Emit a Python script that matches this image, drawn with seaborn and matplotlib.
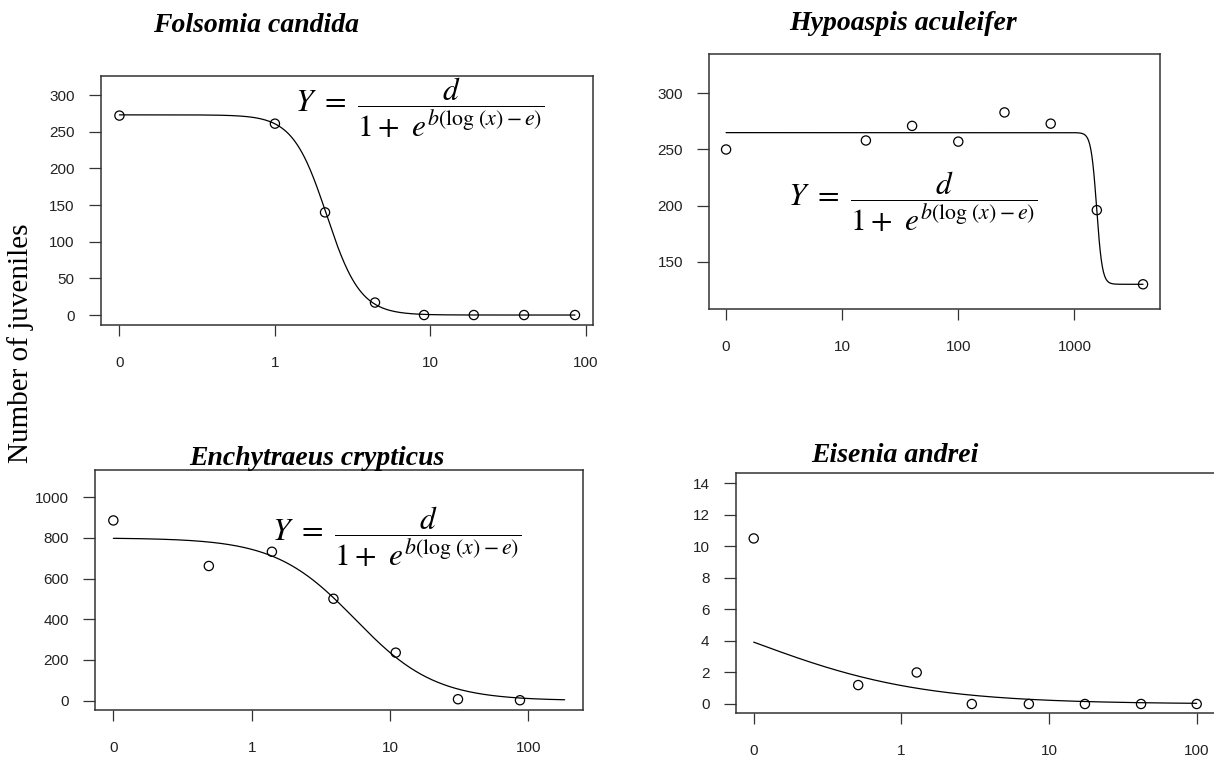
import numpy as np
import pandas as pd
import matplotlib
matplotlib.use("Agg")
import matplotlib.pyplot as plt
from matplotlib.ticker import FixedLocator, NullLocator
import seaborn as sns

# ---------------- data ----------------
titles = ["Folsomia candida", "Hypoaspis aculeifer",
          "Enchytraeus crypticus", "Eisenia andrei"]

fc_dose = [0, 1.0, 2.1, 4.4, 9.1, 19, 40, 85]
fc_juv = [272, 261, 140, 17, 0, 0, 0, 0]

ha_dose = [0, 16, 40, 100, 250, 625, 1560, 3900]
ha_juv = [250, 258, 271, 257, 283, 273, 196, 130]

ec_dose = [0, 0.49, 1.4, 3.9, 11, 31, 87]
ec_juv = [886, 662, 732, 501, 236, 7, 2]

ea_dose = [0, 0.51, 1.27, 3.0, 7.3, 17.5, 42, 100]
ea_juv = [10.5, 1.2, 2.0, 0, 0, 0, 0, 0]

# fitted log-logistic parameters: Y = c + (d - c) / (1 + exp(b (log x - log e)))
fc_fit = dict(c=0.0, d=273.0, b=4.0, e=2.15)
ha_fit = dict(c=130.0, d=265.0, b=18.0, e=1555.0)
ec_fit = dict(c=0.0, d=800.0, b=1.5, e=5.6)
ea_fit = dict(c=0.0, d=8.0, b=0.75, e=0.095)

# x tick labels ("0" is drawn one decade below the first labelled decade)
fc_xticks = ["0", "1", "10", "100"]
ha_xticks = ["0", "10", "100", "1000"]
ec_xticks = ["0", "1", "10", "100"]
ea_xticks = ["0", "1", "10", "100"]

fc_yticks = [0, 50, 100, 150, 200, 250, 300]
ha_yticks = [150, 200, 250, 300]
ec_yticks = [0, 200, 400, 600, 800, 1000]
ea_yticks = [0, 2, 4, 6, 8, 10, 12, 14]

ylabel = "Number of juveniles"
formula = r"$Y\ =\ \dfrac{d}{1+\ e^{b(\log\,(x)-e)}}$"

# ---------------- style ----------------
sns.set_theme(style="white")
plt.rcParams["font.family"] = ["Liberation Sans", "DejaVu Sans"]
plt.rcParams["mathtext.fontset"] = "stix"

W, H = 1214, 757
fig = plt.figure(figsize=(W / 100, H / 100), dpi=100)
fig.patch.set_facecolor("white")


def box(l, r, t, b):
    return [l / W, 1 - b / H, (r - l) / W, (b - t) / H]


panels = [
    dict(dose=fc_dose, juv=fc_juv, fit=fc_fit, zero=0.1, end=85,
         xt=fc_xticks, yt=fc_yticks, ylim=(-13.6, 326),
         rect=box(101.2, 593.2, 76, 325), title=titles[0], tpos=(256, 31.5),
         fpos=(420, 108)),
    dict(dose=ha_dose, juv=ha_juv, fit=ha_fit, zero=1.0, end=3900,
         xt=ha_xticks, yt=ha_yticks, ylim=(108, 335),
         rect=box(709.4, 1159.7, 54, 309), title=titles[1], tpos=(903, 29.5),
         fpos=(913, 202)),
    dict(dose=ec_dose, juv=ec_juv, fit=ec_fit, zero=0.1, end=183,
         xt=ec_xticks, yt=ec_yticks, ylim=(-46, 1134),
         rect=box(95.3, 582.7, 470, 710), title=titles[2], tpos=(317, 465),
         fpos=(397, 537)),
    dict(dose=ea_dose, juv=ea_juv, fit=ea_fit, zero=0.1, end=100,
         xt=ea_xticks, yt=ea_yticks, ylim=(-0.59, 14.63),
         rect=box(736, 1214.4, 473.3, 713.3), title=titles[3], tpos=(894.5, 462.5),
         fpos=None),
]

edge = "#333333"
for i, p in enumerate(panels):
    ax = fig.add_axes(p["rect"])
    ax.set_facecolor("white")
    zero = p["zero"]
    xplot = [d if d > 0 else zero for d in p["dose"]]
    df = pd.DataFrame({"dose": xplot, "juv": p["juv"]})

    f = p["fit"]
    xs = np.logspace(np.log10(zero), np.log10(p["end"]), 400)
    ys = f["c"] + (f["d"] - f["c"]) / (1 + np.exp(f["b"] * (np.log(xs) - np.log(f["e"]))))
    cdf = pd.DataFrame({"dose": xs, "fit": ys})

    sns.lineplot(data=cdf, x="dose", y="fit", ax=ax, color="black",
                 linewidth=0.9, estimator=None, sort=False)
    sns.scatterplot(data=df, x="dose", y="juv", ax=ax, marker="o", s=44,
                    facecolors="none", edgecolor="black", linewidth=0.9,
                    zorder=3)

    ax.set_xscale("log")
    lo, hi = np.log10(zero), np.log10(p["end"])
    pad = 0.04 * (hi - lo)
    ax.set_xlim(10 ** (lo - pad), 10 ** (hi + pad))
    ax.set_ylim(*p["ylim"])
    xt_pos = [zero * 10 ** k for k in range(len(p["xt"]))]
    ax.xaxis.set_major_locator(FixedLocator(xt_pos))
    ax.xaxis.set_minor_locator(NullLocator())
    ax.set_xticklabels(p["xt"])
    ax.set_yticks(p["yt"])
    ax.set_yticklabels([str(v) for v in p["yt"]])
    ax.set_xlabel("")
    ax.set_ylabel("")
    ax.tick_params(axis="x", direction="out", length=8, width=0.9, color=edge,
                   labelsize=11, labelcolor="#222222", pad=14, bottom=True)
    ax.tick_params(axis="y", direction="out", length=9, width=0.9, color=edge,
                   labelsize=11, labelcolor="#222222", pad=10, left=True)
    for s in ax.spines.values():
        s.set_visible(True)
        s.set_color(edge)
        s.set_linewidth(1.1)
    if i == 3:
        ax.spines["right"].set_visible(False)
    ax.grid(False)

    tx, ty = p["tpos"]
    fig.text(tx / W, 1 - ty / H, p["title"], ha="center", va="baseline",
             family=["Liberation Serif", "DejaVu Serif"], weight="bold",
             style="italic", size=20, color="black")
    if p["fpos"] is not None:
        fx, fy = p["fpos"]
        fig.text(fx / W, 1 - fy / H, formula, ha="center", va="center",
                 size=22.5, color="black")

fig.text(21 / W, 1 - 343 / H, ylabel, rotation=90, ha="center", va="center",
         family=["Liberation Serif", "DejaVu Serif"], size=21, color="black")

fig.savefig("out.png", dpi=100, facecolor="white")
